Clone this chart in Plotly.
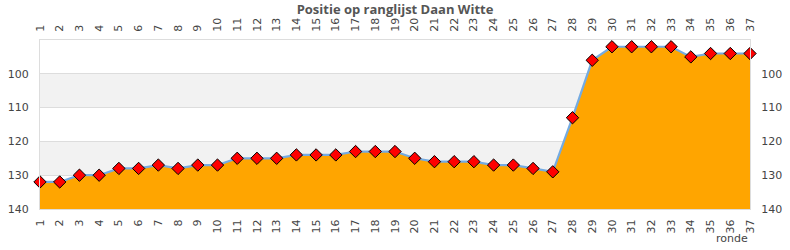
import plotly.graph_objects as go

rondes = list(range(1, 38))
positie = [132, 132, 130, 130, 128, 128, 127, 128, 127, 127,
           125, 125, 125, 124, 124, 124, 123, 123, 123, 125,
           126, 126, 126, 127, 127, 128, 129, 113, 96, 92,
           92, 92, 92, 95, 94, 94, 94]
y_ticks = [100, 110, 120, 130, 140]
y_top, y_bottom = 90, 140
bands = [(100, 110), (120, 130)]
title = "Positie op ranglijst Daan Witte"
x_title = "ronde"

tick_font = dict(family="DejaVu Sans", size=11, color="#444444")

fig = go.Figure()
# baseline for area fill (axis bottom)
fig.add_trace(go.Scatter(x=rondes, y=[y_bottom] * len(rondes), mode="lines",
                         line=dict(width=0), hoverinfo="skip", showlegend=False))
fig.add_trace(go.Scatter(x=rondes, y=positie, mode="lines+markers",
                         fill="tonexty", fillcolor="#FFA500",
                         line=dict(color="#74ABE2", width=2.2),
                         marker=dict(symbol="diamond", size=9.5, color="#FF0000",
                                     line=dict(color="#000000", width=1)),
                         cliponaxis=False, showlegend=False))
# invisible trace for secondary axes
fig.add_trace(go.Scatter(x=rondes, y=positie, xaxis="x2", yaxis="y2", mode="markers",
                         marker=dict(opacity=0), hoverinfo="skip", showlegend=False))

for lo, hi in bands:
    fig.add_shape(type="rect", xref="paper", x0=0, x1=1, yref="y", y0=lo, y1=hi,
                  fillcolor="#F2F2F2", line=dict(width=0), layer="below")

xcommon = dict(range=[1, 37], tickmode="array", tickvals=rondes,
               ticktext=[str(r) for r in rondes], tickangle=-90,
               tickfont=tick_font, showgrid=False, zeroline=False, automargin=False,
               ticks="outside", ticklen=5, tickcolor="rgba(0,0,0,0)")
ycommon = dict(range=[y_bottom, y_top], tickmode="array", tickvals=y_ticks,
               tickfont=tick_font, zeroline=False, automargin=False,
               ticks="outside", ticklen=8, tickcolor="rgba(0,0,0,0)")

fig.update_layout(
    width=790, height=250,
    margin=dict(l=40, r=40, t=40, b=41, autoexpand=False),
    paper_bgcolor="white", plot_bgcolor="white",
    xaxis=dict(**xcommon, side="bottom", showline=True, linecolor="#DDDDDD", mirror=True),
    xaxis2=dict(**xcommon, side="top", overlaying="x", anchor="y"),
    yaxis=dict(**ycommon, side="left", showgrid=True, gridcolor="#DDDDDD",
               showline=True, linecolor="#DDDDDD", mirror=True),
    yaxis2=dict(**ycommon, side="right", overlaying="y", anchor="x", showgrid=False),
    title=dict(text="<b>" + title + "</b>", x=0.5, xanchor="center", y=0.98, yanchor="top",
               font=dict(family="Open Sans", size=13, color="#555555")),
    annotations=[dict(text=x_title, xref="paper", yref="paper", x=1, y=0,
                      xanchor="right", yanchor="top", yshift=-21, showarrow=False,
                      font=dict(family="DejaVu Sans", size=11, color="#444444"))],
)

fig.write_html("out.html")
